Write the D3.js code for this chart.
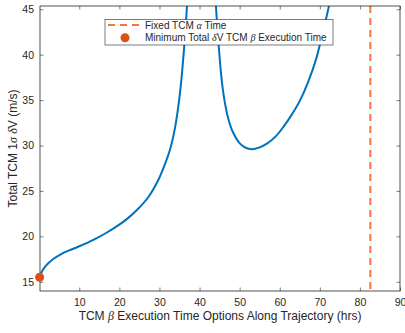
<!DOCTYPE html>
<html>
<head>
<meta charset="utf-8">
<script src="https://cdn.jsdelivr.net/npm/d3@7"></script>
<style>
  body { margin: 0; background: #fff; }
  svg text { font-family: "Liberation Sans", Arial, sans-serif; fill: #262626; }
  .greek { font-family: "Liberation Serif", serif; font-style: italic; }
</style>
</head>
<body>
<svg id="chart" width="405" height="333"></svg>
<script>
// execution time options (hrs) and total dV (m/s)
var times = [0.1, 0.5, 1.2, 2.2, 3.5, 5.5, 7.5, 9.7, 13.9, 17.0, 19.7, 22.0, 24.5, 27.2, 29.7,
             31.4, 32.6, 33.9, 35.1, 35.9, 36.8, 37.3, 40.5, 43.7, 44.1, 44.9, 45.3,
             45.8, 46.4, 47.2, 48.4, 50.1, 51.5, 53.0, 55.0, 56.8, 59.0, 61.0, 63.0,
             65.1, 67.0, 69.0, 70.6, 72.3, 73.0];
var dV = [15.5, 15.95, 16.5, 17.0, 17.5, 18.05, 18.45, 18.85, 19.7, 20.45, 21.2, 21.95, 22.95, 24.3, 26.2,
          28.0, 29.5, 32.0, 35.7, 39.4, 44.9, 50, 75, 50, 45.3, 40.3, 38.2,
          36.2, 34.5, 32.9, 31.4, 30.2, 29.75, 29.6, 29.8, 30.2, 31.0, 32.1, 33.4,
          35.0, 36.9, 39.4, 42.2, 45.4, 47];
var alphaTime = 82.6;
var minPoint = {t: 0.1, v: 15.5};
var xTicks = [10, 20, 30, 40, 50, 60, 70, 80, 90];
var yTicks = [15, 20, 25, 30, 35, 40, 45];

var svg = d3.select("#chart");
var margin = {left: 40, right: 400, top: 6, bottom: 291};

var x = d3.scaleLinear().domain([0.2, 90]).range([margin.left, margin.right]);
var y = d3.scaleLinear().domain([13.98, 45.36]).range([margin.bottom, margin.top]);

svg.append("clipPath").attr("id", "plotClip")
  .append("rect")
  .attr("x", margin.left).attr("y", margin.top)
  .attr("width", margin.right - margin.left)
  .attr("height", margin.bottom - margin.top);

var plot = svg.append("g").attr("clip-path", "url(#plotClip)");

var line = d3.line()
  .x(function(d, i) { return x(times[i]); })
  .y(function(d) { return y(d); })
  .curve(d3.curveCatmullRom.alpha(0.5));

plot.append("path")
  .datum(dV)
  .attr("d", line)
  .style("fill", "none")
  .style("stroke", "#0072BD")
  .style("stroke-width", 2);

// fixed alpha time
plot.append("line")
  .attr("x1", x(alphaTime)).attr("x2", x(alphaTime))
  .attr("y1", margin.top).attr("y2", margin.bottom)
  .style("stroke", "#F7743F")
  .style("stroke-width", 2)
  .style("stroke-dasharray", "7,5");

// axes with ticks on all four sides
var axisColor = "#262626";
function styleAxis(g) {
  g.select(".domain").remove();
  g.selectAll(".tick line").style("stroke", axisColor).style("stroke-width", 0.6);
  g.selectAll(".tick text").style("font-size", "10.5px").style("fill", axisColor);
}

svg.append("g")
  .attr("transform", "translate(0," + margin.bottom + ")")
  .call(d3.axisBottom(x).tickValues(xTicks).tickSize(-3.5).tickPadding(8))
  .call(styleAxis);
svg.append("g")
  .attr("transform", "translate(0," + margin.top + ")")
  .call(d3.axisTop(x).tickValues(xTicks).tickSize(-3.5).tickFormat(""))
  .call(styleAxis);
svg.append("g")
  .attr("transform", "translate(" + margin.left + ",0)")
  .call(d3.axisLeft(y).tickValues(yTicks).tickSize(-3.5).tickPadding(6))
  .call(styleAxis);
svg.append("g")
  .attr("transform", "translate(" + margin.right + ",0)")
  .call(d3.axisRight(y).tickValues(yTicks).tickSize(-3.5).tickFormat(""))
  .call(styleAxis);

svg.append("rect")
  .attr("x", margin.left).attr("y", margin.top)
  .attr("width", margin.right - margin.left)
  .attr("height", margin.bottom - margin.top)
  .style("fill", "none")
  .style("stroke", axisColor)
  .style("stroke-width", 0.8);

// minimum point
svg.append("circle")
  .attr("cx", x(minPoint.t)).attr("cy", y(minPoint.v))
  .attr("r", 4.5)
  .style("fill", "#D95319");

// axis titles
var xt = svg.append("text")
  .attr("x", (margin.left + margin.right) / 2)
  .attr("y", 320)
  .attr("text-anchor", "middle")
  .style("font-size", "12px");
xt.append("tspan").text("TCM ");
xt.append("tspan").attr("class", "greek").text("β");
xt.append("tspan").text(" Execution Time Options Along Trajectory (hrs)");

var yt = svg.append("text")
  .attr("transform", "translate(17," + ((margin.top + margin.bottom) / 2) + ") rotate(-90)")
  .attr("text-anchor", "middle")
  .style("font-size", "12px");
yt.append("tspan").text("Total TCM 1");
yt.append("tspan").attr("class", "greek").text("σ");
yt.append("tspan").text(" ");
yt.append("tspan").attr("class", "greek").text("δ");
yt.append("tspan").text("V (m/s)");

// legend
var legend = svg.append("g");
legend.append("rect")
  .attr("x", 105).attr("y", 19.5)
  .attr("width", 228).attr("height", 25.5)
  .style("fill", "#fff")
  .style("stroke", axisColor)
  .style("stroke-width", 0.6);
legend.append("line")
  .attr("x1", 108).attr("x2", 142)
  .attr("y1", 25).attr("y2", 25)
  .style("stroke", "#F7743F")
  .style("stroke-width", 2)
  .style("stroke-dasharray", "7,5");
legend.append("circle")
  .attr("cx", 125).attr("cy", 37.7).attr("r", 4.5)
  .style("fill", "#D95319");

var l1 = legend.append("text")
  .attr("x", 145).attr("y", 28.6)
  .style("font-size", "10px");
l1.append("tspan").text("Fixed TCM ");
l1.append("tspan").attr("class", "greek").text("α");
l1.append("tspan").text(" Time");

var l2 = legend.append("text")
  .attr("x", 145).attr("y", 41.3)
  .style("font-size", "10px");
l2.append("tspan").text("Minimum Total ");
l2.append("tspan").attr("class", "greek").text("δ");
l2.append("tspan").text("V TCM ");
l2.append("tspan").attr("class", "greek").text("β");
l2.append("tspan").text(" Execution Time");
</script>
</body>
</html>
